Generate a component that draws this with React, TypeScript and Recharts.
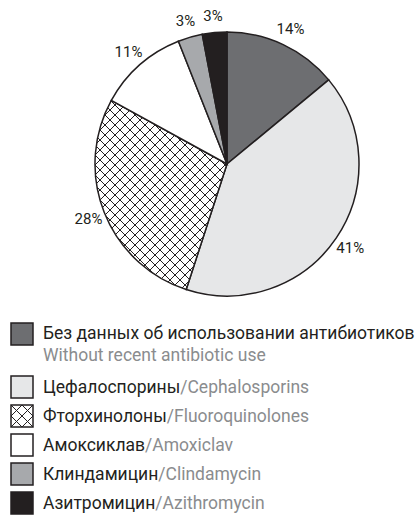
import { PieChart, Pie, Cell, Legend } from 'recharts';

const namesRu = ['Без данных об использовании антибиотиков', 'Цефалоспорины', 'Фторхинолоны', 'Амоксиклав', 'Клиндамицин', 'Азитромицин'];
const namesEn = ['Without recent antibiotic use', 'Cephalosporins', 'Fluoroquinolones', 'Amoxiclav', 'Clindamycin', 'Azithromycin'];
const shares = [14, 41, 28, 11, 3, 3];
const fills = ['#6d6e71', '#e6e7e8', 'url(#hatch)', '#ffffff', '#a7a9ac', '#231f20'];

const data = shares.map((v, i) => ({ name: namesRu[i], value: v }));

const RAD = Math.PI / 180;
const FONT = 'Roboto, "Liberation Sans", sans-serif';

function renderLabel(props: any) {
  const { cx, cy, midAngle, outerRadius, value } = props;
  const r = outerRadius + 17;
  const x = cx + r * Math.cos(-midAngle * RAD);
  const y = cy + r * Math.sin(-midAngle * RAD);
  return (
    <text x={x} y={y} fill="#231f20" fontSize={15} fontFamily={FONT} textAnchor="middle" dominantBaseline="central">
      {value}%
    </text>
  );
}

function LegendBox({ fill }: { fill: string }) {
  return (
    <svg width={24} height={24} style={{ flex: 'none' }}>
      <defs>
        <pattern id="hatchSmall" patternUnits="userSpaceOnUse" width={11} height={11} x={1} y={1}>
          <path d="M0,0L11,11M11,0L0,11" stroke="#231f20" strokeWidth={1} />
        </pattern>
      </defs>
      <rect x={1} y={1} width={22} height={22} fill={fill === 'url(#hatch)' ? 'url(#hatchSmall)' : fill} stroke="#231f20" strokeWidth={1.5} />
    </svg>
  );
}

function renderLegend() {
  return (
    <div style={{ fontFamily: FONT, fontSize: 17.5, color: '#231f20' }}>
      {namesRu.map((ru, i) => (
        <div key={ru} style={{ display: 'flex', alignItems: i === 0 ? 'flex-start' : 'center', height: i === 0 ? 50 : 29 }}>
          <LegendBox fill={fills[i]} />
          <div style={{ marginLeft: 9, lineHeight: i === 0 ? '22px' : '24px', marginTop: i === 0 ? 0 : 0, whiteSpace: 'nowrap' }}>
            {i === 0 ? (
              <>
                <div>{ru}</div>
                <div style={{ color: '#8a8c8e' }}>{namesEn[i]}</div>
              </>
            ) : (
              <>
                {ru}
                <span style={{ color: '#8a8c8e' }}>/{namesEn[i]}</span>
              </>
            )}
          </div>
        </div>
      ))}
    </div>
  );
}

export default function App() {
  return (
    <div style={{ position: 'absolute', left: 0, top: 0, width: 419, height: 523, background: '#fff' }}>
      <PieChart width={419} height={523} margin={{ top: 0, right: 0, bottom: 0, left: 0 }}>
        <defs>
          <pattern id="hatch" patternUnits="userSpaceOnUse" width={10} height={10}>
            <rect width={10} height={10} fill="#fff" />
            <path d="M0,0L10,10M10,0L0,10" stroke="#231f20" strokeWidth={1} />
          </pattern>
        </defs>
        <Pie
          data={data}
          dataKey="value"
          cx={227}
          cy={164}
          outerRadius={132}
          startAngle={90}
          endAngle={-270}
          stroke="#231f20"
          strokeWidth={1.5}
          label={renderLabel}
          labelLine={false}
          isAnimationActive={false}
        >
          {data.map((d, i) => (
            <Cell key={d.name} fill={fills[i]} />
          ))}
        </Pie>
        <Legend
          content={renderLegend}
          wrapperStyle={{ position: 'absolute', left: 10, top: 322, width: 409 }}
        />
      </PieChart>
    </div>
  );
}
